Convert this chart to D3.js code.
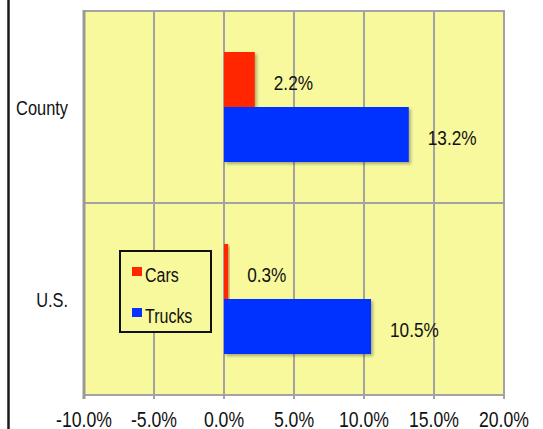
<!DOCTYPE html>
<html>
<head>
<meta charset="utf-8">
<script src="https://cdn.jsdelivr.net/npm/d3@7"></script>
<style>
  body { margin: 0; background: #fff; }
  text { font-family: "Liberation Sans", Arial, sans-serif; fill: #111; }
</style>
</head>
<body>
<script>
// chart data
var categories = ["County", "U.S."];
var seriesNames = ["Cars", "Trucks"];
var cars = [2.2, 0.3];
var trucks = [13.2, 10.5];
var tickValues = [-10, -5, 0, 5, 10, 15, 20];

var colors = {Cars: "#ff2600", Trucks: "#0433ff"};

var width = 543, height = 429;
var plot = {left: 84, right: 504, top: 11, bottom: 395};
var narrow = 0.82; // squeeze Liberation Sans into a narrow face

var svg = d3.select("body").append("svg")
    .attr("width", width)
    .attr("height", height);

// places a text at (px, py) squeezed horizontally
function narrowAt(px, py) {
    return "translate(" + px + "," + py + ") scale(" + narrow + ",1)";
}

// drop shadow for the bars
var defs = svg.append("defs");
defs.append("filter")
    .attr("id", "shadow")
    .attr("x", "-10%").attr("y", "-10%")
    .attr("width", "130%").attr("height", "130%")
    .append("feDropShadow")
    .attr("dx", 2).attr("dy", 2)
    .attr("stdDeviation", 1.8)
    .attr("flood-color", "#000")
    .attr("flood-opacity", 0.3);

// black line at left edge
svg.append("line")
    .attr("x1", 8.5).attr("x2", 8.5)
    .attr("y1", 0).attr("y2", height)
    .attr("stroke", "#1a1a1a")
    .attr("stroke-width", 2.5);

var x = d3.scaleLinear().domain([-10, 20]).range([plot.left, plot.right]);
var y0 = d3.scaleBand().domain(categories).range([plot.top, plot.bottom]).padding(0);
var y1 = d3.scaleBand().domain(seriesNames)
    .range([(y0.bandwidth() - 110) / 2, (y0.bandwidth() + 110) / 2]);

// plot background
svg.append("rect")
    .attr("x", plot.left).attr("y", plot.top)
    .attr("width", plot.right - plot.left)
    .attr("height", plot.bottom - plot.top)
    .attr("fill", "#f7f99c");

// vertical gridlines
svg.append("g").selectAll("line").data(tickValues).enter()
    .append("line")
    .attr("x1", function(d){ return x(d); })
    .attr("x2", function(d){ return x(d); })
    .attr("y1", plot.top).attr("y2", plot.bottom + 4)
    .attr("stroke", "#a3a3a3")
    .attr("stroke-width", 2);

// horizontal lines between categories + border
var hLines = [plot.top, y0(categories[1]), plot.bottom];
svg.append("g").selectAll("line").data(hLines).enter()
    .append("line")
    .attr("x1", plot.left - 1).attr("x2", plot.right + 1)
    .attr("y1", function(d){ return d; })
    .attr("y2", function(d){ return d; })
    .attr("stroke", "#a3a3a3")
    .attr("stroke-width", 2);

// left axis line (a bit heavier)
svg.append("line")
    .attr("x1", plot.left).attr("x2", plot.left)
    .attr("y1", plot.top - 1).attr("y2", plot.bottom + 4)
    .attr("stroke", "#9a9a9a")
    .attr("stroke-width", 3);

// bars
var rows = categories.map(function(c, i){
    return [{cat: c, name: "Cars", value: cars[i]},
            {cat: c, name: "Trucks", value: trucks[i]}];
});
var bars = d3.merge(rows);

svg.append("g").selectAll("rect").data(bars).enter()
    .append("rect")
    .attr("x", x(0))
    .attr("y", function(d){ return y0(d.cat) + y1(d.name); })
    .attr("width", function(d){ return x(d.value) - x(0); })
    .attr("height", y1.bandwidth())
    .attr("fill", function(d){ return colors[d.name]; })
    .attr("filter", "url(#shadow)");

// value labels
svg.append("g").selectAll("text").data(bars).enter()
    .append("text")
    .attr("transform", function(d){
        return narrowAt(x(d.value) + 19, y0(d.cat) + y1(d.name) + y1.bandwidth() / 2 + 3);
    })
    .attr("dy", "0.35em")
    .attr("font-size", 21)
    .text(function(d){ return d.value.toFixed(1) + "%"; });

// category labels
svg.append("g").selectAll("text").data(categories).enter()
    .append("text")
    .attr("transform", function(d){ return narrowAt(68, y0(d) + y0.bandwidth() / 2 + 1); })
    .attr("dy", "0.35em")
    .attr("text-anchor", "end")
    .attr("font-size", 20)
    .text(function(d){ return d; });

// x tick labels
svg.append("g").selectAll("text").data(tickValues).enter()
    .append("text")
    .attr("transform", function(d){ return narrowAt(x(d), 419.5); })
    .attr("dy", "0.35em")
    .attr("text-anchor", "middle")
    .attr("font-size", 21.5)
    .text(function(d){ return d.toFixed(1) + "%"; });

// legend
var legend = svg.append("g").attr("transform", "translate(120,251)");
legend.append("rect")
    .attr("width", 91).attr("height", 81)
    .attr("fill", "#f7f99c")
    .attr("stroke", "#111")
    .attr("stroke-width", 2);

var item = legend.selectAll("g.item").data(seriesNames).enter()
    .append("g")
    .attr("class", "item")
    .attr("transform", function(d, i){ return "translate(12," + (24 + i * 41) + ")"; });
item.append("rect")
    .attr("y", -8)
    .attr("width", 10).attr("height", 9)
    .attr("fill", function(d){ return colors[d]; });
item.append("text")
    .attr("transform", narrowAt(13, 0))
    .attr("dy", "0.35em")
    .attr("font-size", 19.5)
    .text(function(d){ return d; });
</script>
</body>
</html>
